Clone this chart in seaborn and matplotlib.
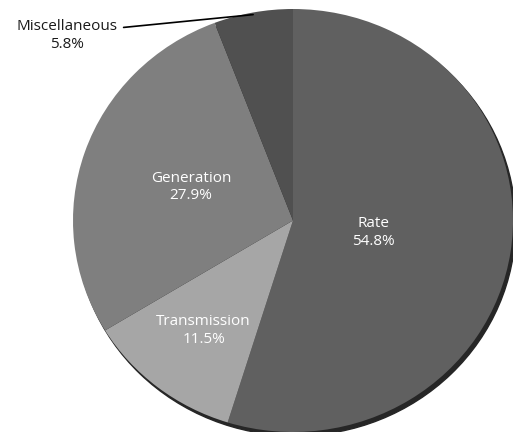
import numpy as np
import matplotlib
matplotlib.use("Agg")
import matplotlib.pyplot as plt
from matplotlib.patches import Ellipse
import seaborn as sns

categories = ["Rate", "Transmission", "Generation", "Miscellaneous"]
shares = [54.8, 11.5, 27.9, 5.8]
colors = ["#606060", "#a6a6a6", "#7f7f7f", "#505050"]

sns.set_theme(style="white")
plt.rcParams["font.family"] = ["Open Sans", "DejaVu Sans"]

fig = plt.figure(figsize=(5.2, 4.4), dpi=100)
ax = fig.add_axes([73 / 520, 8 / 440, 440 / 520, 423 / 440])
ax.axis("off")

# bottom shadow rim
ax.add_patch(Ellipse((0.012, -0.018), 2.0, 2.0, color="#262626", zorder=0))

wedges, _ = ax.pie(shares, colors=colors, startangle=90, counterclock=False,
                   radius=1.0, frame=False, wedgeprops=dict(linewidth=0))
ax.set_xlim(-1, 1)
ax.set_ylim(-1, 1)
ax.set_aspect("auto")

label_r = [0.37, 0.66, 0.49]
for i, w in enumerate(wedges[:3]):
    mid = np.deg2rad((w.theta1 + w.theta2) / 2)
    r = label_r[i]
    ax.text(r * np.cos(mid), r * np.sin(mid), f"{categories[i]}\n{shares[i]}%",
            ha="center", va="center", color="white", fontsize=11, linespacing=1.25)

w = wedges[3]
mid = np.deg2rad((w.theta1 + w.theta2) / 2)
ax.annotate(f"{categories[3]}\n{shares[3]}%", xy=(np.cos(mid), np.sin(mid) - 0.01),
            xytext=(-1.027, 0.876), ha="center", va="center", fontsize=11,
            color="#1a1a1a", linespacing=1.25, annotation_clip=False,
            arrowprops=dict(arrowstyle="-", color="black", lw=1.2,
                            shrinkA=2, shrinkB=0, relpos=(1.0, 0.72)))

fig.savefig("out.png", dpi=100)
